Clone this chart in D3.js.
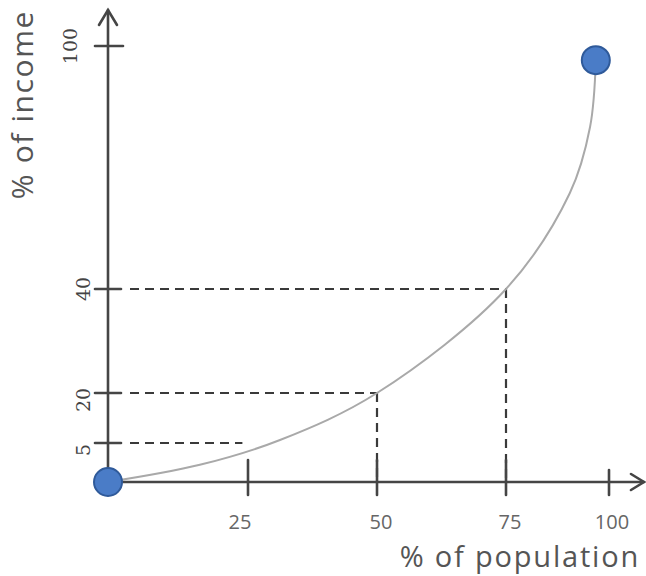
<!DOCTYPE html>
<html>
<head>
<meta charset="utf-8">
<script src="https://cdn.jsdelivr.net/npm/d3@7"></script>
<style>
  body { margin: 0; background: #fff; }
  svg { display: block; }
</style>
</head>
<body>
<div id="chart"></div>
<script>
// lorenz curve
var popPct    = [0, 16.4, 31.2, 50, 75, 90.5, 95.4, 96.8];
var incomePct = [0, 2.2, 5.9, 20, 40, 63.7, 80, 96.5];

var xTicks = [25, 50, 75, 100];
var yTicks = [5, 20, 40, 100];

// dashed guides: income level -> population reached
var guideIncome = [5, 20, 40];
var guidePop    = [24, 50, 75];
var guideDrop   = [false, true, true];

var W = 646, H = 576;
var axisColor = "#454545";

var svg = d3.select("#chart")
    .append("svg")
    .attr("width", W)
    .attr("height", H);

// the drawing is schematic, so the scales are piecewise
var x = d3.scaleLinear().domain([0, 25, 50, 75, 100]).range([108, 248, 377, 506, 609]);
var y = d3.scaleLinear().domain([0, 5, 20, 40, 100]).range([482, 443, 393, 289, 46]);

// dashed guides
var guides = svg.append("g")
    .attr("stroke", "#3a3a3a")
    .attr("stroke-width", 2.2)
    .attr("stroke-dasharray", "9,6")
    .attr("fill", "none");

guideIncome.forEach(function(v, i) {
    guides.append("line")
        .attr("x1", x(0) + 22).attr("x2", x(guidePop[i]))
        .attr("y1", y(v)).attr("y2", y(v));
    if (guideDrop[i]) {
        guides.append("line")
            .attr("x1", x(guidePop[i])).attr("x2", x(guidePop[i]))
            .attr("y1", y(v)).attr("y2", y(0));
    }
});

// curve
var line = d3.line()
    .x(function(d) { return x(d[0]); })
    .y(function(d) { return y(d[1]); })
    .curve(d3.curveCatmullRom.alpha(0.5));

svg.append("path")
    .datum(popPct.map(function(p, i) { return [p, incomePct[i]]; }))
    .attr("d", line)
    .attr("fill", "none")
    .attr("stroke", "#a9a9a9")
    .attr("stroke-width", 2);

// axes
var axes = svg.append("g")
    .attr("stroke", axisColor)
    .attr("stroke-width", 2.6)
    .attr("fill", "none")
    .attr("stroke-linecap", "round");

axes.append("line")
    .attr("x1", x(0)).attr("x2", x(0))
    .attr("y1", y(0)).attr("y2", 10);
axes.append("path").attr("d", "M" + (x(0) - 9) + ",25 L" + x(0) + ",10 L" + (x(0) + 9) + ",25");

axes.append("line")
    .attr("x1", x(0)).attr("x2", 644)
    .attr("y1", y(0)).attr("y2", y(0));
axes.append("path").attr("d", "M631," + (y(0) - 8) + " L644," + y(0) + " L631," + (y(0) + 8));

// ticks
axes.selectAll(".ytick")
    .data(yTicks)
    .enter()
    .append("line")
    .attr("x1", x(0) - 13).attr("x2", function(d) { return x(0) + (d == 100 ? 15 : 13); })
    .attr("y1", function(d) { return y(d); })
    .attr("y2", function(d) { return y(d); });

axes.selectAll(".xtick")
    .data(xTicks)
    .enter()
    .append("line")
    .attr("x1", function(d) { return x(d); })
    .attr("x2", function(d) { return x(d); })
    .attr("y1", function(d) { return y(0) - (d == 100 ? 12 : 22); })
    .attr("y2", y(0) + 13);

// tick labels
svg.selectAll(".ylab")
    .data(yTicks)
    .enter()
    .append("text")
    .attr("transform", function(d) {
        var lx = d == 100 ? 77 : 90;
        var ly = y(d) + (d == 5 || d == 20 ? 7 : 0);
        return "translate(" + lx + "," + ly + ") rotate(-90)";
    })
    .attr("text-anchor", "middle")
    .attr("font-family", "'DejaVu Serif', serif")
    .attr("font-size", 19)
    .attr("fill", "#444")
    .text(function(d) { return d; });

svg.selectAll(".xlab")
    .data(xTicks)
    .enter()
    .append("text")
    .attr("x", function(d) { return x(d) + (d == 25 ? -8 : d == 100 ? 3 : 4); })
    .attr("y", 529)
    .attr("text-anchor", "middle")
    .attr("font-family", "'Open Sans', sans-serif")
    .attr("font-size", 20)
    .attr("fill", "#666")
    .text(function(d) { return d; });

// axis titles
svg.append("text")
    .attr("x", 640)
    .attr("y", 567)
    .attr("text-anchor", "end")
    .attr("font-family", "'Open Sans', sans-serif")
    .attr("font-size", 29)
    .attr("letter-spacing", 1.8)
    .attr("fill", "#555")
    .text("% of population");

svg.append("text")
    .attr("transform", "translate(33,10) rotate(-90)")
    .attr("text-anchor", "end")
    .attr("font-family", "'Open Sans', sans-serif")
    .attr("font-size", 30)
    .attr("letter-spacing", 1.6)
    .attr("fill", "#555")
    .text("% of income");

// end points
var ends = [[popPct[0], incomePct[0]], [popPct[popPct.length - 1], incomePct[incomePct.length - 1]]];
svg.selectAll(".dot")
    .data(ends)
    .enter()
    .append("circle")
    .attr("cx", function(d) { return x(d[0]); })
    .attr("cy", function(d) { return y(d[1]); })
    .attr("r", 14)
    .attr("fill", "#4a7cc7")
    .attr("stroke", "#2f5a9a")
    .attr("stroke-width", 2);
</script>
</body>
</html>
